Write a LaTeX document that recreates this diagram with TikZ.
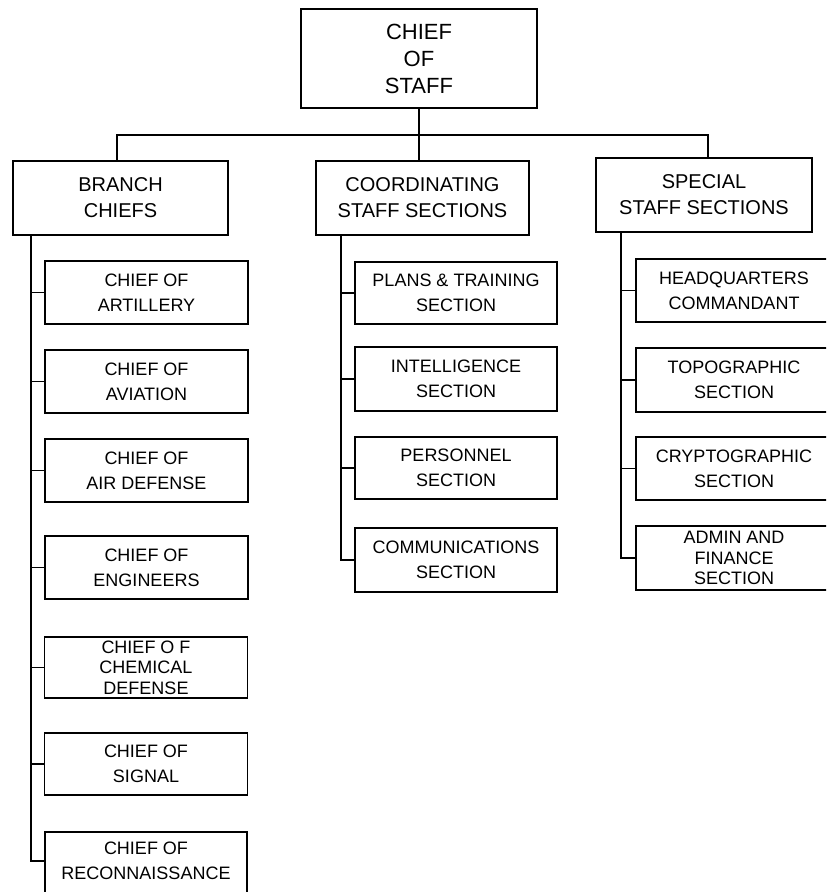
\documentclass[tikz,border=0pt]{standalone}
\usepackage{fontspec}
\setmainfont{Liberation Sans}
\begin{document}
\begin{tikzpicture}[x=0.75pt, y=-0.75pt, line width=1.1pt,
  box/.style={draw, rectangle, inner sep=0pt, align=center},
  wh/.style 2 args={minimum width=#1*0.75pt, minimum height=#2*0.75pt},
  toptxt/.style={font=\fontsize{16.5}{20.25}\selectfont},
  midtxt/.style={font=\fontsize{15}{19.5}\selectfont},
  subtxt/.style={font=\fontsize{13.5}{18.75}\selectfont},
  tighttxt/.style={font=\fontsize{13.5}{15.4}\selectfont}]
\useasboundingbox (0,0) rectangle (826,892);
\clip (0,0) rectangle (826,892);

% top levels
\node[box,toptxt,wh={236}{99}] (cos) at (419,58.5) {CHIEF\\OF\\STAFF};
\node[box,midtxt,wh={215}{74}] (branch) at (120.5,198) {BRANCH\\CHIEFS};
\node[box,midtxt,wh={213}{74}] (coord) at (422.5,198) {COORDINATING\\STAFF SECTIONS};
\node[box,midtxt,wh={216}{74}] (special) at (704,195) {SPECIAL\\STAFF SECTIONS};

% left column
\node[box,subtxt,wh={203}{63}] (art) at (146.5,292.5) {CHIEF OF\\ARTILLERY};
\node[box,subtxt,wh={203}{63}] (avi) at (146.5,381.5) {CHIEF OF\\AVIATION};
\node[box,subtxt,wh={203}{63}] (airdef) at (146.5,470.5) {CHIEF OF\\AIR DEFENSE};
\node[box,subtxt,wh={203}{63}] (eng) at (146.5,567.5) {CHIEF OF\\ENGINEERS};
\node[box,tighttxt,wh={203}{61}] (chem) at (146,667.5) {CHIEF O F\\CHEMICAL\\DEFENSE};
\node[box,subtxt,wh={203}{62}] (sig) at (146,764) {CHIEF OF\\SIGNAL};
\node[box,wh={202}{68}] (recon) at (146,866) {};
\node[subtxt,align=center,inner sep=0pt] (recontxt) at (146,861) {CHIEF OF\\RECONNAISSANCE};

% middle column
\node[box,subtxt,wh={202}{62}] (plans) at (456,293) {PLANS \& TRAINING\\SECTION};
\node[box,subtxt,wh={202}{64}] (intel) at (456,379) {INTELLIGENCE\\SECTION};
\node[box,subtxt,wh={202}{62}] (pers) at (456,468) {PERSONNEL\\SECTION};
\node[box,subtxt,wh={202}{64}] (comm) at (456,560) {COMMUNICATIONS\\SECTION};

% right column
\node[box,subtxt,wh={196}{63}] (hq) at (734,290.5) {HEADQUARTERS\\COMMANDANT};
\node[box,subtxt,wh={196}{64}] (topo) at (734,380) {TOPOGRAPHIC\\SECTION};
\node[box,subtxt,wh={196}{63}] (crypto) at (734,468.5) {CRYPTOGRAPHIC\\SECTION};
\node[box,tighttxt,wh={196}{64}] (admin) at (734,558) {ADMIN AND\\FINANCE\\SECTION};

% connectors from chief of staff
\coordinate (hl) at (117,135);
\coordinate (hr) at (708,135);
\draw (cos.south) -- (cos.south |- coord.north);
\draw (branch.north -| hl) -- (hl) -- (hr) -- (special.north -| hr);

% left trunk
\coordinate (lt) at (31,0);
\draw (branch.south -| lt) |- ([yshift=3.75pt]recon.west);
\foreach \n in {art,avi,airdef,eng,chem,sig}
  \draw (lt |- \n.west) -- (\n.west);

% middle trunk
\coordinate (mt) at (341,0);
\draw (coord.south -| mt) |- (comm.west);
\foreach \n in {plans,intel,pers}
  \draw (mt |- \n.west) -- (\n.west);

% right trunk
\coordinate (rt) at (621,0);
\draw (special.south -| rt) |- (admin.west);
\foreach \n in {hq,topo,crypto}
  \draw (rt |- \n.west) -- (\n.west);
\end{tikzpicture}
\end{document}
